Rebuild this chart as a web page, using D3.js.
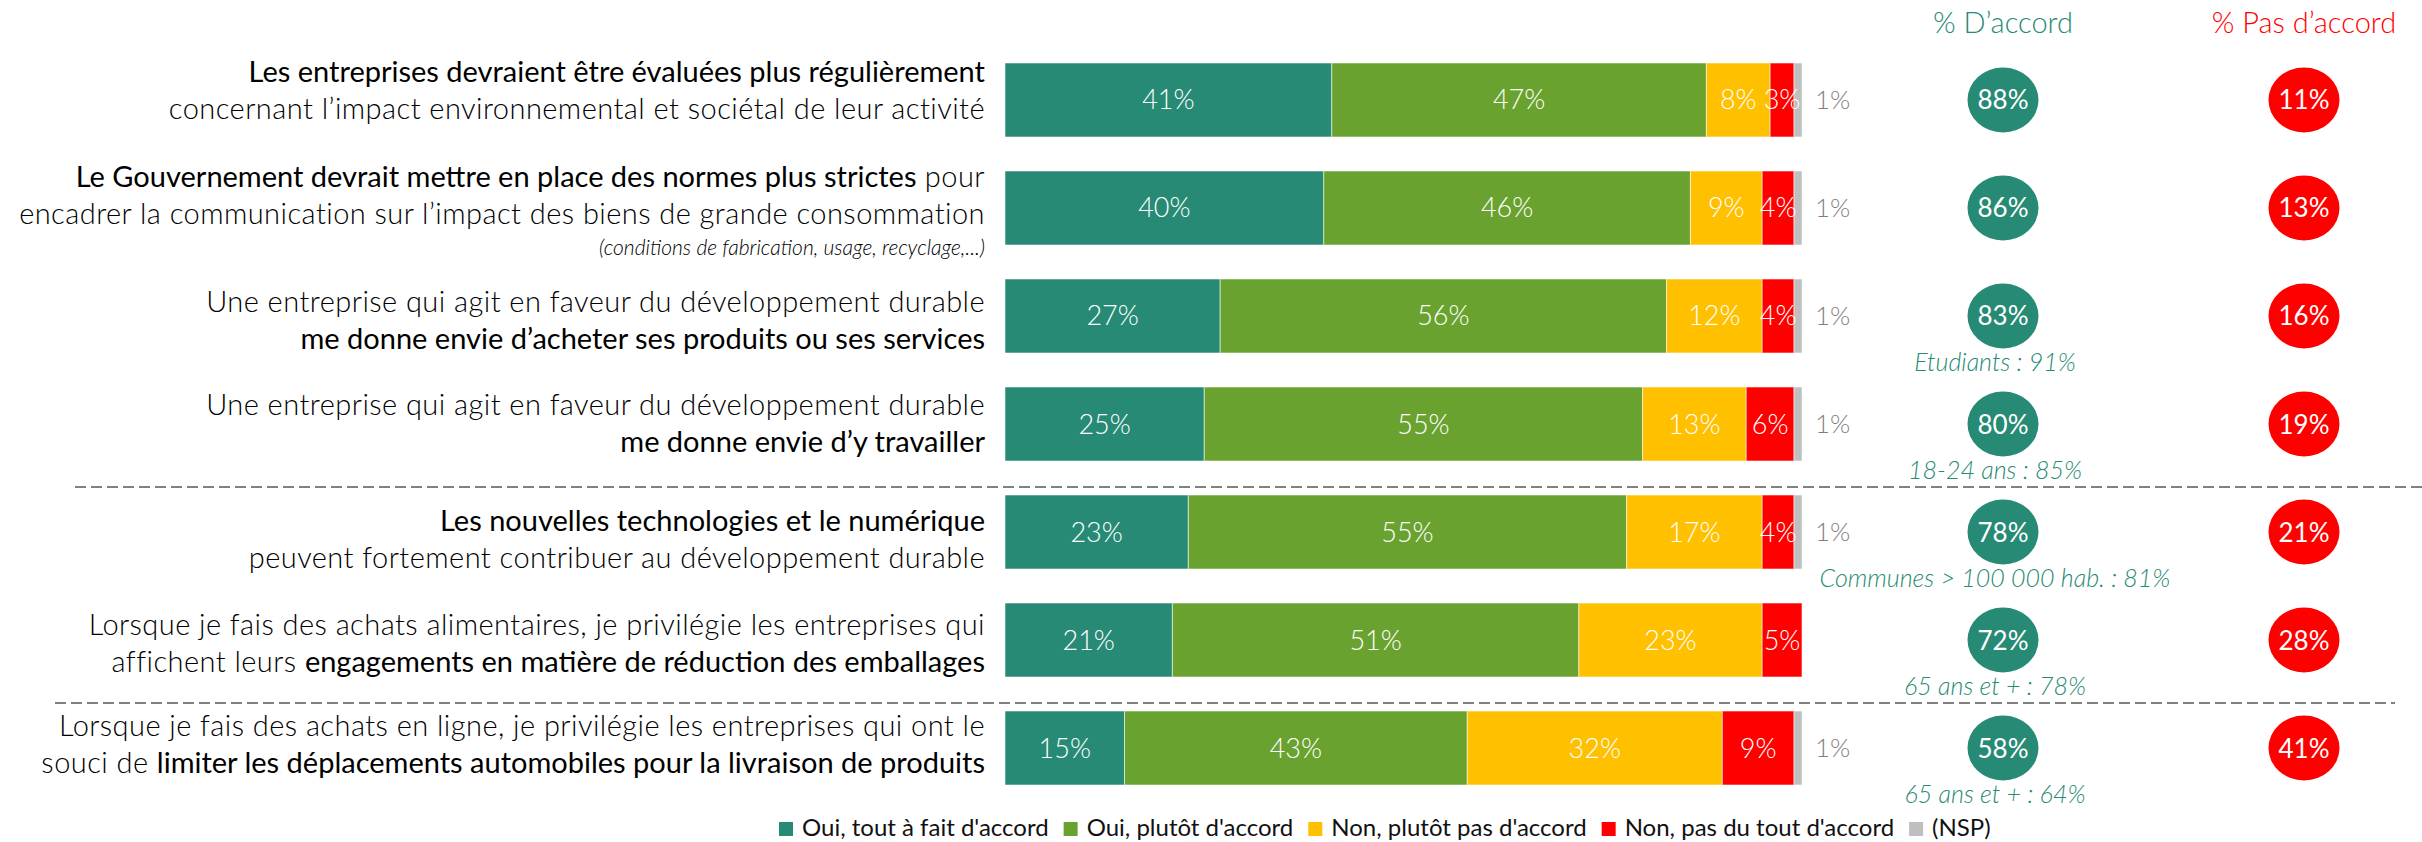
<!DOCTYPE html>
<html>
<head>
<meta charset="utf-8">
<script src="https://cdn.jsdelivr.net/npm/d3@7"></script>
<style>
  body { margin: 0; background: #fff; }
  svg { display: block; font-family: Lato, "Open Sans", sans-serif; }
</style>
</head>
<body>
<svg width="2422" height="842"></svg>
<script>
// question labels: each line is a list of [text, bold]
const categories = [
  [[["Les entreprises devraient être évaluées plus régulièrement", 1]],
   [["concernant l’impact environnemental et sociétal de leur activité", 0]]],
  [[["Le Gouvernement devrait mettre en place des normes plus strictes", 1], [" pour", 0]],
   [["encadrer la communication sur l’impact des biens de grande consommation", 0]]],
  [[["Une entreprise qui agit en faveur du développement durable", 0]],
   [["me donne envie d’acheter ses produits ou ses services", 1]]],
  [[["Une entreprise qui agit en faveur du développement durable", 0]],
   [["me donne envie d’y travailler", 1]]],
  [[["Les nouvelles technologies et le numérique", 1]],
   [["peuvent fortement contribuer au développement durable", 0]]],
  [[["Lorsque je fais des achats alimentaires, je privilégie les entreprises qui", 0]],
   [["affichent leurs ", 0], ["engagements en matière de réduction des emballages", 1]]],
  [[["Lorsque je fais des achats en ligne, je privilégie les entreprises qui ont le", 0]],
   [["souci de ", 0], ["limiter les déplacements automobiles pour la livraison de produits", 1]]]
];
const subNotes = ["", "(conditions de fabrication, usage, recyclage,...)", "", "", "", "", ""];

const seriesNames = ["Oui, tout à fait d'accord", "Oui, plutôt d'accord",
  "Non, plutôt pas d'accord", "Non, pas du tout d'accord", "(NSP)"];
const toutAFait = [41, 40, 27, 25, 23, 21, 15];
const plutotOui = [47, 46, 56, 55, 55, 51, 43];
const plutotNon = [8, 9, 12, 13, 17, 23, 32];
const pasDuTout = [3, 4, 4, 6, 4, 5, 9];
const nsp = [1, 1, 1, 1, 1, 0, 1];

const totalAccord = [88, 86, 83, 80, 78, 72, 58];
const totalPasAccord = [11, 13, 16, 19, 21, 28, 41];
const highlights = ["", "", "Etudiants : 91%", "18-24 ans : 85%",
  "Communes > 100 000 hab. : 81%", "65 ans et + : 78%", "65 ans et + : 64%"];
const columnTitles = ["% D’accord", "% Pas d’accord"];

const svg = d3.select("svg");
const green = "#278a74", red = "#ff0000";

// table for d3.stack
const keys = ["tout", "plutot", "non", "pas", "nsp"];
const rows = categories.map((c, i) => ({
  i, tout: toutAFait[i], plutot: plutotOui[i], non: plutotNon[i], pas: pasDuTout[i], nsp: nsp[i]
}));
const stacked = d3.stack().keys(keys)(rows);

const color = d3.scaleOrdinal().domain(keys)
  .range(["#278a74", "#6aa22f", "#ffc000", "#ff0000", "#bfbfbf"]);

const x = d3.scaleLinear().domain([0, 100]).range([1005, 1802]);
const y = d3.scaleBand().domain(d3.range(rows.length))
  .range([46, 46 + 7 * 108]).paddingInner(0.315).paddingOuter(0.1574);
const yc = (i) => y(i) + y.bandwidth() / 2;

// bars
const layer = svg.append("g").selectAll("g")
  .data(stacked).join("g")
  .attr("fill", (s) => color(s.key));

layer.selectAll("rect")
  .data((s) => s.filter((d) => d[1] > d[0]))
  .join("rect")
  .attr("x", (d) => x(d[0]))
  .attr("y", (d) => y(d.data.i))
  .attr("width", (d) => x(d[1]) - x(d[0]))
  .attr("height", y.bandwidth())
  .attr("stroke", "#ffffff")
  .attr("stroke-opacity", 0.55)
  .attr("stroke-width", 1);

// values inside the bars
stacked.slice(0, 4).forEach((s) => {
  svg.append("g").selectAll("text")
    .data(s.filter((d) => d[1] > d[0]))
    .join("text")
    .attr("x", (d) => x((d[0] + d[1]) / 2))
    .attr("y", (d) => yc(d.data.i) + 9.5)
    .attr("text-anchor", "middle")
    .attr("fill", "#fff")
    .attr("font-size", 27)
    .attr("font-weight", 300)
    .text((d) => (d[1] - d[0]) + "%");
});

// NSP value next to the bar
svg.append("g").selectAll("text")
  .data(rows.filter((d) => d.nsp > 0))
  .join("text")
  .attr("x", x(100) + 13)
  .attr("y", (d) => yc(d.i) + 9)
  .attr("fill", "#7f7f7f")
  .attr("font-size", 26)
  .attr("font-weight", 300)
  .text((d) => d.nsp + "%");

// question labels, right aligned against the bars
const labelShift = [-18, -21, -4, -9, -1, -5, -12];
const labelX = 985, lineGap = 37;
categories.forEach((lines, i) => {
  lines.forEach((parts, j) => {
    const t = svg.append("text")
      .attr("x", labelX)
      .attr("y", yc(i) + labelShift[i] + j * lineGap)
      .attr("text-anchor", "end")
      .attr("font-size", 29)
      .attr("fill", "#000");
    parts.forEach(([txt, bold]) => {
      t.append("tspan")
        .attr("font-weight", bold ? 400 : 300)
        .attr("letter-spacing", bold ? 0 : 0.45)
        .style("white-space", "pre")
        .text(txt);
    });
  });
  if (subNotes[i]) {
    svg.append("text")
      .attr("x", labelX)
      .attr("y", yc(i) + labelShift[i] + lineGap + 31)
      .attr("text-anchor", "end")
      .attr("font-size", 21)
      .attr("font-style", "italic")
      .attr("font-weight", 300)
      .attr("fill", "#000")
      .text(subNotes[i]);
  }
});

// separators between question groups
[4, 6].forEach((i, k) => {
  svg.append("line")
    .attr("x1", k === 0 ? 75 : 55)
    .attr("x2", k === 0 ? 2422 : 2395)
    .attr("y1", y(i) - 8)
    .attr("y2", y(i) - 8)
    .attr("stroke", "#808080")
    .attr("stroke-width", 2)
    .attr("stroke-dasharray", "11,5");
});

// summary columns
const colX = [2003, 2304];
const colColor = [green, red];
const colValues = [totalAccord, totalPasAccord];
columnTitles.forEach((title, k) => {
  svg.append("text")
    .attr("x", colX[k])
    .attr("y", 33)
    .attr("text-anchor", "middle")
    .attr("font-size", 29)
    .attr("font-weight", 300)
    .attr("fill", colColor[k])
    .text(title);

  const g = svg.append("g").selectAll("g")
    .data(colValues[k])
    .join("g")
    .attr("transform", (d, i) => `translate(${colX[k]},${yc(i)})`);
  g.append("ellipse")
    .attr("rx", 35.5)
    .attr("ry", 32.5)
    .attr("fill", colColor[k]);
  g.append("text")
    .attr("y", 9.5)
    .attr("text-anchor", "middle")
    .attr("fill", "#fff")
    .attr("font-size", 26)
    .attr("font-weight", 400)
    .text((d) => d + "%");
});

svg.append("g").selectAll("text")
  .data(highlights)
  .join("text")
  .attr("x", 1995)
  .attr("y", (d, i) => yc(i) + 55)
  .attr("text-anchor", "middle")
  .attr("fill", green)
  .attr("font-size", 25)
  .attr("font-style", "italic")
  .attr("font-weight", 300)
  .text((d) => d);

// legend
const legend = svg.append("g").attr("transform", "translate(779,836)");
let lx = 0;
seriesNames.forEach((name, k) => {
  legend.append("rect")
    .attr("x", lx).attr("y", -14)
    .attr("width", 14).attr("height", 14)
    .attr("fill", color(keys[k]));
  const t = legend.append("text")
    .attr("x", lx + 23)
    .attr("font-size", 24)
    .attr("fill", "#111")
    .text(name);
  lx += 23 + t.node().getComputedTextLength() + 15;
});
</script>
</body>
</html>
